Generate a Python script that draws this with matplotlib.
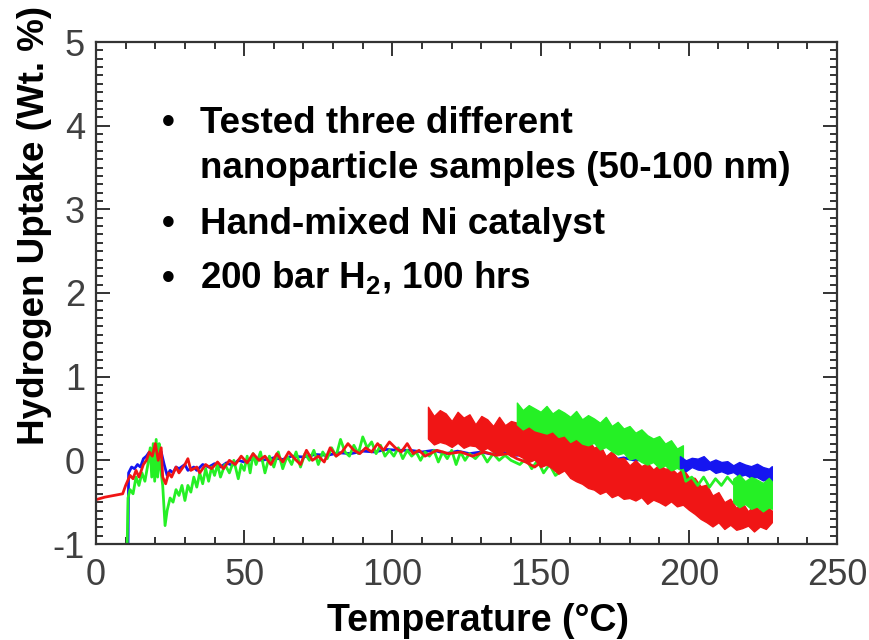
import matplotlib
matplotlib.use('Agg')
import matplotlib.pyplot as plt
from matplotlib.ticker import MultipleLocator

plt.rcParams['axes.unicode_minus'] = False

# Sample temperatures (deg C) and hydrogen uptake (wt. %)
blue_t = [10.8, 11.0, 12, 13, 14, 15, 16, 17, 18, 19, 20, 21, 22, 23, 24, 25, 26, 27, 28,
          30, 31, 33, 34, 36, 38, 40, 42, 44, 46, 48, 50, 53, 56, 60, 63, 66, 70, 74, 78,
          82, 86, 90, 94, 98, 102, 106, 110, 114, 118, 122, 126, 130, 134, 138, 142, 146,
          150, 154, 158, 162, 166, 170, 174, 178, 182, 186, 190, 194, 197]
blue_v = [-1.05, -0.15, -0.08, -0.1, -0.05, -0.08, 0.02, 0.05, 0.1, 0.12, 0.15, 0.12, 0.1,
          -0.05, -0.18, -0.12, -0.15, -0.08, -0.1, -0.05, -0.12, -0.08, -0.12, -0.05, -0.08,
          -0.04, -0.08, -0.03, -0.06, 0.0, -0.02, 0.02, 0.0, 0.03, 0.01, 0.05, 0.04, 0.07,
          0.06, 0.09, 0.08, 0.11, 0.1, 0.13, 0.12, 0.12, 0.1, 0.12, 0.08, 0.11, 0.08, 0.1,
          0.07, 0.09, 0.06, 0.08, 0.05, 0.06, 0.03, 0.05, 0.02, 0.04, 0.0, 0.03, 0.0, 0.02,
          -0.02, 0.0, -0.02]

red_t = [0, 3, 6, 9, 10, 11.5, 12.5, 13.5, 14.5, 16, 17, 18, 19, 20, 21, 22, 22.5, 23.5,
         24.5, 25.5, 27, 28, 29, 30, 31, 32, 34, 35, 37, 39, 41, 43, 45, 47, 49, 51, 53, 55,
         57, 59, 61, 63, 65, 67, 69, 71, 73, 75, 77, 79, 81, 83, 85, 87, 89, 91, 93, 95, 97,
         99, 101, 103, 105, 107, 109, 111, 115, 119, 123, 127, 131, 135, 139, 142, 145, 148,
         151, 154, 157, 160, 162, 164, 166, 168, 170, 172, 175]
red_v = [-0.47, -0.44, -0.42, -0.4, -0.3, -0.18, -0.22, -0.12, -0.2, -0.05, 0.0, 0.1, 0.05,
         0.2, 0.0, 0.15, -0.2, -0.28, -0.15, -0.2, -0.08, -0.15, -0.1, -0.05, 0.02, -0.12,
         -0.08, -0.15, -0.05, -0.1, -0.02, -0.1, 0.0, -0.05, 0.05, -0.03, 0.08, 0.0, 0.05,
         -0.05, 0.08, -0.02, 0.1, 0.02, -0.05, 0.12, 0.0, 0.05, -0.02, 0.15, 0.05, 0.1, 0.2,
         0.12, 0.08, 0.15, 0.1, 0.2, 0.12, 0.22, 0.15, 0.1, 0.2, 0.08, 0.12, 0.05, 0.12, 0.08,
         0.1, 0.05, 0.1, 0.06, 0.08, 0.02, -0.02, -0.08, 0.0, -0.06, -0.1, -0.12, -0.05,
         -0.15, -0.22, -0.25, -0.15, -0.3, -0.28]

green_t = [10.5, 10.8, 11.5, 12.5, 13.5, 14.5, 15.5, 16.5, 17.5, 18.3, 18.8, 19.3, 19.8,
           20.3, 20.8, 21.3, 21.8, 22.5, 23.3, 24, 25, 26, 27, 28, 29, 30, 31, 32, 33, 34,
           35, 36, 37, 38, 39, 40, 41, 42, 43.5, 45, 46.5, 48, 49, 50, 51, 52, 53, 54, 55.5,
           57, 58.5, 60, 61.5, 63, 64.5, 66, 67.5, 69, 70.5, 72, 73.5, 75, 76.5, 78, 79.5,
           81, 82.5, 84, 85.5, 87, 88.5, 90, 91.5, 93, 94.5, 96, 97.5, 99, 100.5, 102, 103.5,
           105, 106.5, 108, 109.5, 111, 112.5, 114, 115.5, 117, 118.5, 120, 121.5, 123,
           124.5, 126, 128, 130, 132, 134, 136, 138, 140, 143, 145, 147, 149, 151, 153, 155,
           158, 162, 166, 170]
green_v = [-1.05, -0.45, -0.35, -0.4, -0.2, -0.3, -0.15, -0.25, -0.05, 0.15, -0.2, 0.2,
           -0.25, 0.25, -0.2, 0.2, -0.1, -0.3, -0.78, -0.6, -0.45, -0.5, -0.35, -0.42, -0.3,
           -0.48, -0.3, -0.38, -0.2, -0.32, -0.15, -0.28, -0.1, -0.25, -0.08, -0.18, -0.05,
           -0.2, -0.05, -0.15, 0.0, -0.22, -0.05, -0.12, 0.05, -0.15, 0.08, -0.05, 0.1, -0.15,
           0.05, -0.08, 0.1, -0.1, 0.05, -0.05, 0.1, -0.08, 0.08, 0.0, 0.12, -0.05, 0.1, 0.02,
           0.15, 0.05, 0.25, 0.1, 0.05, 0.18, 0.08, 0.28, 0.15, 0.22, 0.08, 0.18, 0.05, 0.12,
           0.05, 0.15, 0.02, 0.12, 0.05, 0.1, 0.0, 0.1, 0.05, 0.12, -0.02, 0.1, 0.02, 0.12,
           -0.05, 0.1, 0.0, 0.08, 0.02, 0.1, -0.02, 0.08, 0.0, 0.06, 0.0, -0.05, 0.02, -0.1,
           0.0, -0.15, -0.05, -0.18, -0.1, -0.15, -0.12, -0.18]

# green trace between its two noisy segments
green_mid_t = [198, 199, 201, 203, 205, 207, 209, 211, 213, 215]
green_mid_v = [-0.12, -0.25, -0.2, -0.3, -0.2, -0.32, -0.22, -0.3, -0.2, -0.28]

# noisy high-temperature segments: upper / lower envelopes
red_band_t = [112, 114, 116, 118, 120, 122, 124, 126, 128, 130, 132, 134, 136, 138, 140,
              142, 144, 146, 148, 150, 152, 154, 156, 158, 160, 162, 164, 166, 168, 170,
              172, 174, 176, 178, 180, 182, 184, 186, 188, 190, 192, 194, 196, 198, 200,
              202, 204, 206, 208, 210, 212, 214, 216, 218, 220, 222, 224, 226, 228]
red_band_hi = [0.64, 0.53, 0.6, 0.56, 0.47, 0.58, 0.51, 0.55, 0.43, 0.53, 0.49, 0.41, 0.52,
               0.42, 0.47, 0.45, 0.36, 0.46, 0.37, 0.4, 0.35, 0.39, 0.28, 0.34, 0.27, 0.32,
               0.21, 0.25, 0.15, 0.19, 0.05, 0.11, 0.02, 0.03, -0.06, 0.0, -0.07, -0.03,
               -0.11, -0.05, -0.1, -0.09, -0.16, -0.1, -0.2, -0.21, -0.31, -0.29, -0.42,
               -0.38, -0.5, -0.46, -0.57, -0.5, -0.61, -0.53, -0.6, -0.55, -0.6]
red_band_lo = [0.26, 0.19, 0.22, 0.2, 0.16, 0.21, 0.15, 0.18, 0.17, 0.11, 0.15, 0.1, 0.08,
               0.12, 0.05, 0.07, 0.03, -0.02, 0.01, -0.08, -0.05, -0.1, -0.16, -0.12, -0.21,
               -0.25, -0.28, -0.33, -0.35, -0.4, -0.37, -0.44, -0.41, -0.46, -0.45, -0.48,
               -0.44, -0.52, -0.47, -0.5, -0.54, -0.49, -0.55, -0.53, -0.59, -0.64, -0.7,
               -0.74, -0.79, -0.74, -0.82, -0.77, -0.83, -0.81, -0.78, -0.85, -0.79, -0.82,
               -0.74]

green_band_t = [142, 144, 146, 148, 150, 152, 154, 156, 158, 160, 162, 164, 166, 168, 170,
                172, 174, 176, 178, 180, 182, 184, 186, 188, 190, 192, 194, 196, 198]
green_band_hi = [0.69, 0.6, 0.66, 0.62, 0.58, 0.65, 0.56, 0.61, 0.57, 0.52, 0.59, 0.49,
                 0.54, 0.5, 0.45, 0.52, 0.41, 0.46, 0.38, 0.41, 0.33, 0.37, 0.3, 0.26, 0.29,
                 0.2, 0.24, 0.14, 0.18]
green_band_lo = [0.43, 0.37, 0.41, 0.36, 0.34, 0.32, 0.35, 0.28, 0.3, 0.22, 0.26, 0.2, 0.18,
                 0.21, 0.13, 0.16, 0.11, 0.07, 0.09, 0.01, 0.03, -0.02, -0.05, -0.02, -0.09,
                 -0.06, -0.12, -0.09, -0.13]

green_band2_t = [215, 217, 219, 221, 223, 225, 227, 228]
green_band2_hi = [-0.22, -0.17, -0.25, -0.2, -0.23, -0.27, -0.21, -0.25]
green_band2_lo = [-0.5, -0.56, -0.52, -0.58, -0.55, -0.61, -0.56, -0.58]

blue_band_t = [197, 199, 201, 203, 205, 207, 209, 211, 213, 215, 217, 219, 221, 223, 225,
               227, 228]
blue_band_hi = [0.05, 0.0, 0.03, 0.02, 0.05, -0.02, 0.01, -0.02, -0.01, -0.06, -0.02, -0.05,
                -0.07, -0.04, -0.08, -0.1, -0.07]
blue_band_lo = [-0.09, -0.13, -0.08, -0.11, -0.12, -0.1, -0.15, -0.13, -0.16, -0.14, -0.19,
                -0.17, -0.21, -0.2, -0.24, -0.22, -0.25]

notes = ['Tested three different', 'nanoparticle samples (50-100 nm)',
         'Hand-mixed Ni catalyst', '200 bar H$_\\mathregular{2}$, 100 hrs']
note_bullets = [True, False, True, True]
note_baselines = [133, 178, 234, 289]

BLUE = '#1515f0'
RED = '#f01515'
GREEN = '#25f025'
AXCOL = '#333333'

W, H = 869, 640
fig = plt.figure(figsize=(W / 100, H / 100), dpi=100)
ax = fig.add_axes([96 / W, 1 - 544 / H, (837 - 96) / W, (544 - 42) / H])

ax.plot(blue_t, blue_v, color=BLUE, lw=2.0, zorder=2)
ax.plot(red_t, red_v, color=RED, lw=2.0, zorder=2.2)
ax.plot(green_t, green_v, color=GREEN, lw=2.0, zorder=2.1)

ax.fill_between(red_band_t, red_band_lo, red_band_hi, color=RED, lw=1.0, zorder=3)
ax.fill_between(green_band_t, green_band_lo, green_band_hi, color=GREEN, lw=1.0, zorder=3.1)
ax.fill_between(blue_band_t, blue_band_lo, blue_band_hi, color=BLUE, lw=1.0, zorder=3.2)
ax.fill_between(green_band2_t, green_band2_lo, green_band2_hi, color=GREEN, lw=1.0, zorder=3.3)
ax.plot(green_mid_t, green_mid_v, color=GREEN, lw=2.0, zorder=3.4)

ax.set_xlim(0, 250)
ax.set_ylim(-1, 5)
ax.xaxis.set_major_locator(MultipleLocator(50))
ax.xaxis.set_minor_locator(MultipleLocator(10))
ax.yaxis.set_major_locator(MultipleLocator(1))
ax.yaxis.set_minor_locator(MultipleLocator(0.1))

for s in ax.spines.values():
    s.set_linewidth(1.6)
    s.set_color(AXCOL)
ax.tick_params(which='both', direction='in', top=True, right=True, width=1.4,
               color=AXCOL, labelcolor='#404040')
ax.tick_params(which='major', length=10, labelsize=26)
ax.tick_params(which='minor', length=5)
ax.tick_params(axis='x', pad=10)
ax.tick_params(axis='y', pad=8)
for lab in ax.get_xticklabels() + ax.get_yticklabels():
    lab.set_family(['Liberation Sans', 'DejaVu Sans'])

bold = dict(family=['Liberation Sans', 'DejaVu Sans'], fontweight='bold', color='black')
fig.text(35 / W, 1 - 225 / H, 'Hydrogen Uptake (Wt. %)', rotation=90, ha='center',
         va='center', fontsize=26.5, **bold)
fig.text(478 / W, 1 - 631 / H, 'Temperature (°C)', ha='center', va='baseline',
         fontsize=27, **bold)

for txt, has_bullet, base in zip(notes, note_bullets, note_baselines):
    fig.text(200 / W, 1 - base / H, txt, ha='left', va='baseline', fontsize=26.5, **bold)
    if has_bullet:
        fig.text(168 / W, 1 - base / H, '•', ha='center', va='baseline', fontsize=26.5, **bold)

fig.savefig('out.png', dpi=100)
plt.close(fig)
